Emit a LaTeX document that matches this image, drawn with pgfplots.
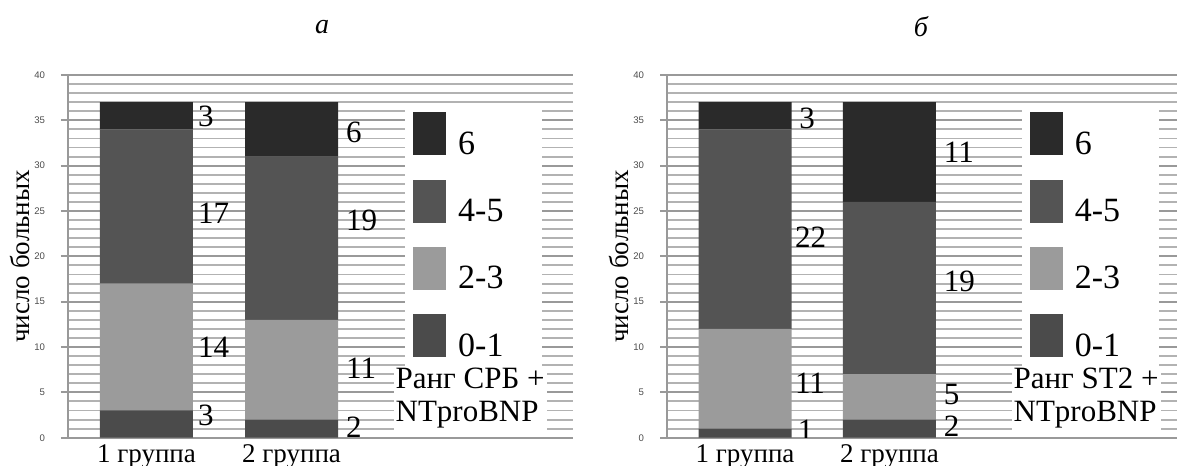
\documentclass[border=0pt]{standalone}
\usepackage{fontspec}
\setmainfont{Liberation Serif}
\newfontfamily\tnr{Liberation Serif}
\newfontfamily\tickfont{Liberation Sans}
\usepackage{pgfplots}
\pgfplotsset{compat=1.18}
\usepackage{pgfplotstable}
\definecolor{cA}{HTML}{4B4B4B}
\definecolor{cB}{HTML}{9B9B9B}
\definecolor{cC}{HTML}{545454}
\definecolor{cD}{HTML}{2A2A2A}

\pgfplotstableread{
x r01 r23 r45 r6
1 3 14 17 3
2 2 11 18 6
}\dataA
\pgfplotstableread{
x r01 r23 r45 r6
1 1 11 22 3
2 2 5 19 11
}\dataB

\tikzset{
  lbl/.style={anchor=west, inner sep=1pt, font=\tnr\fontsize{15.5}{15.5}\selectfont},
  ttl/.style={anchor=north west, fill=white, inner sep=1pt, align=left, font=\tnr\fontsize{15.5}{16.5}\selectfont},
}
\newcommand{\lgE}[1]{\makebox[36pt][l]{#1}}
\pgfplotsset{
  sqleg/.style={legend image code/.code={\fill[##1,draw=none] (0pt,-5.5pt) rectangle (16.5pt,16pt);}},
  panel/.style={
    scale only axis, height=181.35pt, ymin=0, ymax=40,
    ybar stacked, bar width=46.5pt,
    axis x line*=bottom, axis y line*=left,
    axis line style={gray!80, line width=0.8pt},
    ytick={0,5,...,40}, minor y tick num=4,
    ymajorgrids, yminorgrids,
    major grid style={gray!80, line width=1.1pt},
    minor grid style={gray!60, line width=0.95pt},
    tick align=outside, major tick length=3.5pt, minor tick length=0pt,
    ytick style={gray!80, line width=1pt},
    xtick style={draw=none},
    xtick={1,2}, xticklabels={1 группа, 2 группа},
    /pgf/number format/assume math mode=true,
    yticklabel style={font=\tickfont\fontsize{4.8}{5}\selectfont, text=black!70, xshift=-4.5pt},
    xticklabel style={font=\tnr\fontsize{13.5}{13.5}\selectfont, text height=9.5pt, text depth=3pt, yshift=4.3pt},
    ylabel={число больных},
    ylabel style={at={(axis description cs:-0.095,0.5)}, anchor=center, font=\tnr\fontsize{13.5}{13.5}\selectfont},
    reverse legend, legend cell align=left,
    legend style={draw=none, fill=white, inner xsep=4pt, inner ysep=2pt, row sep=9.3pt,
      font=\tnr\fontsize{17}{17}\selectfont, anchor=north west,
      /tikz/every odd column/.append style={column sep=4pt}},
  },
}

\begin{document}
\begin{tikzpicture}
\useasboundingbox (-34pt,-14.15pt) rectangle (556pt,218.85pt);
\begin{axis}[panel, width=252.5pt, xmin=0.459, xmax=3.94,
  legend style={at={(rel axis cs:0.667,0.909)}}]
\addplot[fill=cA, draw=none, sqleg] table[x=x,y=r01]{\dataA};
\addplot[fill=cB, draw=none, sqleg] table[x=x,y=r23]{\dataA};
\addplot[fill=cC, draw=none, sqleg] table[x=x,y=r45]{\dataA};
\addplot[fill=cD, draw=none, sqleg] table[x=x,y=r6]{\dataA};
\legend{\lgE{0-1},\lgE{2-3},\lgE{4-5},\lgE{6}}
\node[lbl] at (axis cs:1.34,35.4) {3};
\node[lbl] at (axis cs:1.34,24.8) {17};
\node[lbl] at (axis cs:1.34,10.0) {14};
\node[lbl] at (axis cs:1.34,2.5) {3};
\node[lbl] at (axis cs:2.36,33.7) {6};
\node[lbl] at (axis cs:2.36,24.0) {19};
\node[lbl] at (axis cs:2.36,7.7) {11};
\node[lbl] at (axis cs:2.36,1.2) {2};
\node[ttl] at (rel axis cs:0.644,0.198) {Ранг СРБ +\\NTproBNP};
\end{axis}
\begin{axis}[panel, xshift=299.5pt, width=255pt, xmin=0.46, xmax=3.99,
  legend style={at={(rel axis cs:0.695,0.909)}}]
\addplot[fill=cA, draw=none, sqleg] table[x=x,y=r01]{\dataB};
\addplot[fill=cB, draw=none, sqleg] table[x=x,y=r23]{\dataB};
\addplot[fill=cC, draw=none, sqleg] table[x=x,y=r45]{\dataB};
\addplot[fill=cD, draw=none, sqleg] table[x=x,y=r6]{\dataB};
\legend{\lgE{0-1},\lgE{2-3},\lgE{4-5},\lgE{6}}
\node[lbl] at (axis cs:1.36,35.2) {3};
\node[lbl] at (axis cs:1.33,22.1) {22};
\node[lbl] at (axis cs:1.33,6.0) {11};
\node[lbl] at (axis cs:1.35,0.8) {1};
\node[lbl] at (axis cs:2.36,31.5) {11};
\node[lbl] at (axis cs:2.36,17.2) {19};
\node[lbl] at (axis cs:2.36,4.8) {5};
\node[lbl] at (axis cs:2.36,1.3) {2};
\node[ttl] at (rel axis cs:0.675,0.198) {Ранг ST2 +\\NTproBNP};
\end{axis}
\node[font=\tnr\itshape\fontsize{14}{14}\selectfont] at (127pt,205.35pt) {а};
\node[font=\tnr\itshape\fontsize{14}{14}\selectfont] at (426.5pt,205.35pt) {б};
\end{tikzpicture}
\end{document}
